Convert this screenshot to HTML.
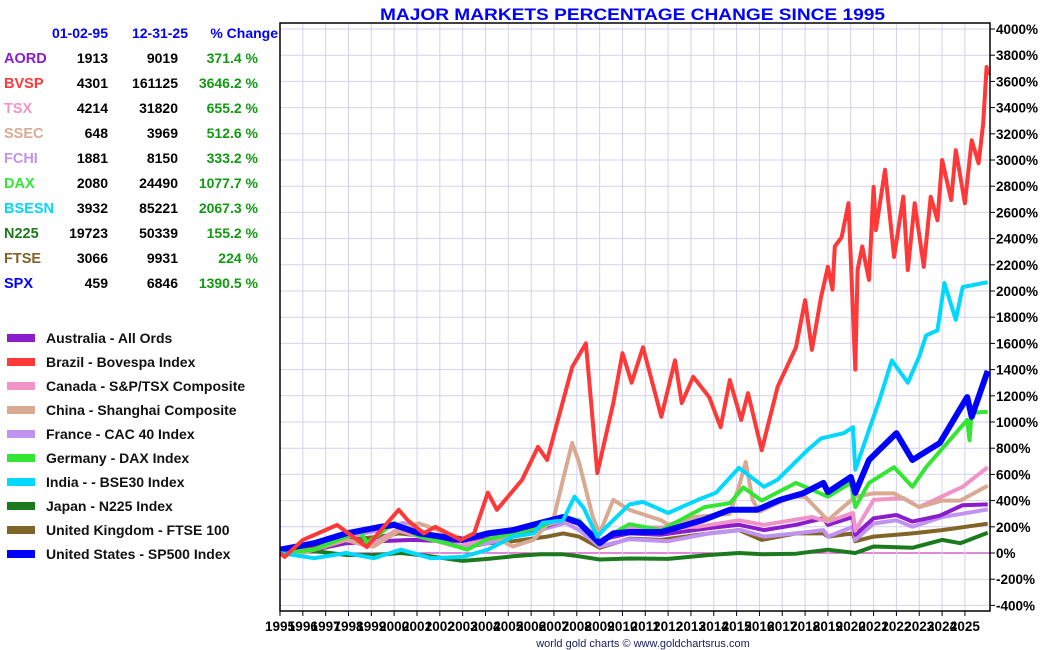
<!DOCTYPE html>
<html><head><meta charset="utf-8"><style>
html,body{margin:0;padding:0;background:#fff;}
svg{display:block;font-family:"Liberation Sans",Arial,sans-serif;font-weight:bold;}
</style></head><body>
<svg id="c" width="1050" height="650" viewBox="0 0 1050 650"></svg>
<script>
const yTicks=[-400,-200,0,200,400,600,800,1000,1200,1400,1600,1800,2000,2200,2400,2600,2800,3000,3200,3400,3600,3800,4000];
const years=[1995,1996,1997,1998,1999,2000,2001,2002,2003,2004,2005,2006,2007,2008,2009,2010,2011,2012,2013,2014,2015,2016,2017,2018,2019,2020,2021,2022,2023,2024,2025];
const tableCodes=["AORD","BVSP","TSX","SSEC","FCHI","DAX","BSESN","N225","FTSE","SPX"];
const tableStart=["1913","4301","4214","648","1881","2080","3932","19723","3066","459"];
const tableEnd=["9019","161125","31820","3969","8150","24490","85221","50339","9931","6846"];
const tableChange=["371.4 %","3646.2 %","655.2 %","512.6 %","333.2 %","1077.7 %","2067.3 %","155.2 %","224 %","1390.5 %"];
const legendLabels=["Australia - All Ords","Brazil - Bovespa Index","Canada - S&P/TSX Composite","China - Shanghai Composite","France - CAC 40 Index","Germany - DAX Index","India -  - BSE30 Index","Japan - N225 Index","United Kingdom - FTSE 100","United States - SP500 Index"];
const colors=["#8a1ccc","#ff3838","#f293c8","#d9aa92","#c093f0","#33e633","#00d8ff","#1b7a1b","#806428","#0000ff"];
const n225=[[1995,0],[1996.5,15],[1997.9,-15],[1999.1,-15],[2000.3,0],[2001.6,-25],[2003,-60],[2004.1,-45],[2005.2,-25],[2006.4,-10],[2007.4,-10],[2008.1,-25],[2009,-50],[2010.3,-42],[2012,-45],[2013.8,-15],[2015.1,0],[2016.2,-10],[2017.6,-5],[2019,25],[2020.2,0],[2021,50],[2022.7,40],[2024,100],[2024.8,75],[2026,155]];
const ftse=[[1995,0],[1996.5,50],[1997.9,100],[1999.4,125],[2000.2,150],[2001.6,125],[2003,40],[2004.1,75],[2005.2,90],[2006.7,125],[2007.4,150],[2008.1,125],[2009,40],[2010.3,110],[2011.7,100],[2013.8,150],[2015.1,175],[2016.1,100],[2017.6,150],[2018.8,150],[2019,125],[2020.1,150],[2020.2,90],[2021,125],[2022.7,150],[2024,175],[2026,224]];
const fchi=[[1995,0],[1996.5,25],[1997.9,125],[1999.4,175],[2000.4,230],[2001.1,175],[2003,50],[2004.1,75],[2005.2,125],[2006.4,175],[2007.5,230],[2008.1,175],[2009,50],[2010.3,105],[2012,90],[2013.8,150],[2015.2,175],[2016.2,125],[2017.6,150],[2018.8,175],[2019,125],[2020.1,200],[2020.2,100],[2021,225],[2022,250],[2022.7,200],[2024,275],[2024.9,300],[2026,333]];
const aord=[[1995,0],[1996.5,25],[1997.9,75],[1999.4,90],[2000.8,100],[2002.3,90],[2003.8,100],[2005.2,150],[2006.4,190],[2007.4,250],[2008,250],[2009,100],[2010.3,150],[2011.7,140],[2013.8,190],[2015.1,215],[2016.2,175],[2017.6,215],[2018.8,265],[2019,215],[2020.1,275],[2020.2,140],[2021,265],[2022,290],[2022.7,240],[2023.9,285],[2024.9,365],[2026,371]];
const tsx=[[1995,0],[1996.5,25],[1997.9,100],[1998.9,50],[2000.1,175],[2001.1,125],[2002.7,50],[2004.1,100],[2005.2,150],[2006.4,200],[2007.4,250],[2008.1,225],[2009,100],[2010.3,195],[2011.7,195],[2013.3,200],[2015.1,250],[2016.2,215],[2018.3,275],[2019,240],[2020.1,305],[2020.2,170],[2021,405],[2022.3,420],[2023,350],[2024.9,505],[2026,655]];
const ssec=[[1995,0],[1996,0],[1997.9,100],[1999.1,50],[2000.5,200],[2001.1,225],[2002.3,150],[2003.2,100],[2004.1,150],[2005.2,50],[2006.1,100],[2007,275],[2007.5,635],[2007.8,840],[2008.1,690],[2008.7,275],[2009,150],[2009.6,405],[2010.3,330],[2011.7,250],[2012,215],[2013.2,275],[2014.7,300],[2015.1,505],[2015.4,695],[2015.7,405],[2016,315],[2017.4,430],[2018,430],[2019,250],[2020.2,430],[2021,455],[2021.9,455],[2023,350],[2024,400],[2024.8,400],[2026,513]];
const dax=[[1995,0],[1996.5,25],[1997.9,125],[1998.5,175],[1998.8,75],[2000,230],[2001.1,125],[2002.3,75],[2003.2,25],[2004,100],[2005.2,150],[2006.4,200],[2007.4,275],[2008.1,250],[2009,75],[2009.6,150],[2010.3,220],[2011.7,175],[2013.6,350],[2014.7,380],[2015.3,500],[2016.1,400],[2017.6,535],[2019,430],[2020,535],[2020.2,350],[2020.8,535],[2021.9,655],[2022.7,505],[2023.3,655],[2025.1,1015],[2025.2,860],[2025.3,1070],[2026,1078]];
const spx=[[1995,25],[1996.5,75],[1997.9,150],[1999.4,200],[2000,215],[2001.1,150],[2003,100],[2004.1,150],[2005.2,175],[2006.4,230],[2007.4,275],[2008.1,230],[2009,75],[2009.6,150],[2010.3,160],[2011.7,160],[2013.5,250],[2014.7,330],[2015.9,330],[2016.9,405],[2017.9,455],[2018.8,535],[2019,465],[2020,580],[2020.2,460],[2020.8,710],[2022,915],[2022.7,710],[2023.9,840],[2025.1,1190],[2025.3,1040],[2026,1390]];
const bsesn=[[1995,0],[1996.5,-40],[1997.9,0],[1999.1,-40],[2000.3,25],[2001.6,-40],[2003,-30],[2004.1,25],[2005.2,125],[2006.1,150],[2006.5,230],[2007.4,250],[2007.9,430],[2008.3,345],[2008.9,125],[2009.3,200],[2010.3,370],[2010.9,390],[2012,305],[2013.3,405],[2014.1,460],[2015.1,650],[2016.2,505],[2016.8,560],[2018.1,785],[2018.7,875],[2019.7,915],[2020.1,960],[2020.2,635],[2020.8,940],[2021.3,1190],[2021.8,1470],[2022.5,1300],[2023,1500],[2023.3,1660],[2023.8,1700],[2024.1,2060],[2024.6,1780],[2024.9,2030],[2026,2067]];
const bvsp=[[1995,0],[1995.2,-30],[1996,100],[1997.5,214],[1998.8,46],[1999.3,150],[2000.2,330],[2000.6,250],[2001.3,150],[2001.8,200],[2002.9,100],[2003.5,150],[2004.1,460],[2004.5,330],[2005.6,557],[2006.3,810],[2006.7,710],[2007.8,1420],[2008.4,1600],[2008.9,610],[2009.6,1145],[2010,1525],[2010.4,1300],[2010.9,1570],[2011.7,1040],[2012.3,1470],[2012.6,1145],[2013.1,1345],[2013.8,1190],[2014.3,960],[2014.7,1320],[2015.2,1015],[2015.5,1220],[2016.1,785],[2016.8,1270],[2017.6,1570],[2018,1930],[2018.3,1550],[2018.7,1955],[2019,2185],[2019.2,2010],[2019.3,2340],[2019.6,2410],[2019.9,2670],[2020.2,1400],[2020.3,2160],[2020.5,2340],[2020.8,2085],[2021,2795],[2021.1,2465],[2021.5,2925],[2021.9,2260],[2022.3,2720],[2022.5,2160],[2022.8,2670],[2023.2,2185],[2023.5,2720],[2023.8,2540],[2024,3000],[2024.4,2695],[2024.6,3075],[2025,2670],[2025.3,3150],[2025.6,2975],[2025.8,3280],[2025.95,3710],[2026,3646]];

const NS='http://www.w3.org/2000/svg';
const svg=document.getElementById('c');
const L=280,R=990,T=23,B=611;
function X(t){return 280+(t-1995)*22.83;}
function Y(v){return 553-v*0.131;}
function mk(tag,attrs,parent){const e=document.createElementNS(NS,tag);for(const k in attrs)e.setAttribute(k,attrs[k]);(parent||svg).appendChild(e);return e;}
function txt(s,attrs,parent){const e=mk('text',attrs,parent);e.textContent=s;return e;}

const grid=mk('g',{});


yTicks.forEach(v=>{mk('line',{x1:L,x2:R,y1:Y(v),y2:Y(v),stroke:v===0?'#d040c0':'#d2d2ee','stroke-width':v===0?1.2:1},grid);});
years.forEach(y=>{mk('line',{x1:X(y),x2:X(y),y1:T,y2:B,stroke:'#d2d2ee','stroke-width':1},grid);});

const order=[[n225,7],[ftse,8],[fchi,4],[aord,0],[tsx,2],[ssec,3],[dax,5],[spx,9],[bsesn,6],[bvsp,1]];
const sg=mk('g',{});


order.forEach(([d,ci])=>{
  const p=mk('polyline',{points:d.map(q=>X(q[0]).toFixed(1)+','+Y(q[1]).toFixed(1)).join(' '),fill:'none',stroke:colors[ci],'stroke-width':ci===9?6:4,'stroke-linejoin':'round'},sg);
  
  
});

const ax=mk('g',{});


mk('rect',{x:L,y:T,width:R-L,height:B-T,fill:'none',stroke:'#000','stroke-width':1.5},ax);
yTicks.forEach(v=>{
  mk('line',{x1:R,x2:R+5,y1:Y(v),y2:Y(v),stroke:'#000'},ax);
  const t=txt(v+'%',{x:996,y:Y(v)+5,'font-size':13.5,fill:'#000'},ax);
  
  
});
years.forEach(y=>{
  mk('line',{x1:X(y),x2:X(y),y1:B,y2:B+5,stroke:'#000'},ax);
  const t=txt(String(y),{x:X(y),y:631,'font-size':13.5,'text-anchor':'middle',fill:'#000'},ax);
  
  
});

const ti=txt('MAJOR MARKETS PERCENTAGE CHANGE SINCE 1995',{x:380,y:20,'font-size':17,fill:'#0000ff',textLength:505,lengthAdjust:'spacingAndGlyphs'});


const ft=txt('world gold charts © www.goldchartsrus.com',{x:643,y:647,'font-size':11,'font-weight':'normal','text-anchor':'middle',fill:'#1a2060'});



const tb=mk('g',{});


[['01-02-95',108],['12-31-25',188],['% Change',278]].forEach(([s,x])=>{const h=txt(s,{x:x,y:38,'font-size':14,'text-anchor':'end',fill:'#0000ff'},tb);});
tableCodes.forEach((c,i)=>{
  const y=63+i*25;
  const a=txt(c,{x:4,y:y,'font-size':14.5,fill:colors[i]},tb);
  const b=txt(tableStart[i],{x:108,y:y,'font-size':14,'text-anchor':'end',fill:'#000'},tb);
  const e=txt(tableEnd[i],{x:178,y:y,'font-size':14,'text-anchor':'end',fill:'#000'},tb);
  const g=txt(tableChange[i],{x:258,y:y,'font-size':14,'text-anchor':'end',fill:'#119911'},tb);
});

const lg=mk('g',{});


legendLabels.forEach((s,i)=>{
  const y=338+i*24;
  const r=mk('rect',{x:7,y:y-4,width:28,height:8,fill:colors[i]},lg);
  
  
  const t=txt(s,{x:46,y:y+5,'font-size':14,fill:'#111'},lg);
  
  
});
</script>
</body></html>
